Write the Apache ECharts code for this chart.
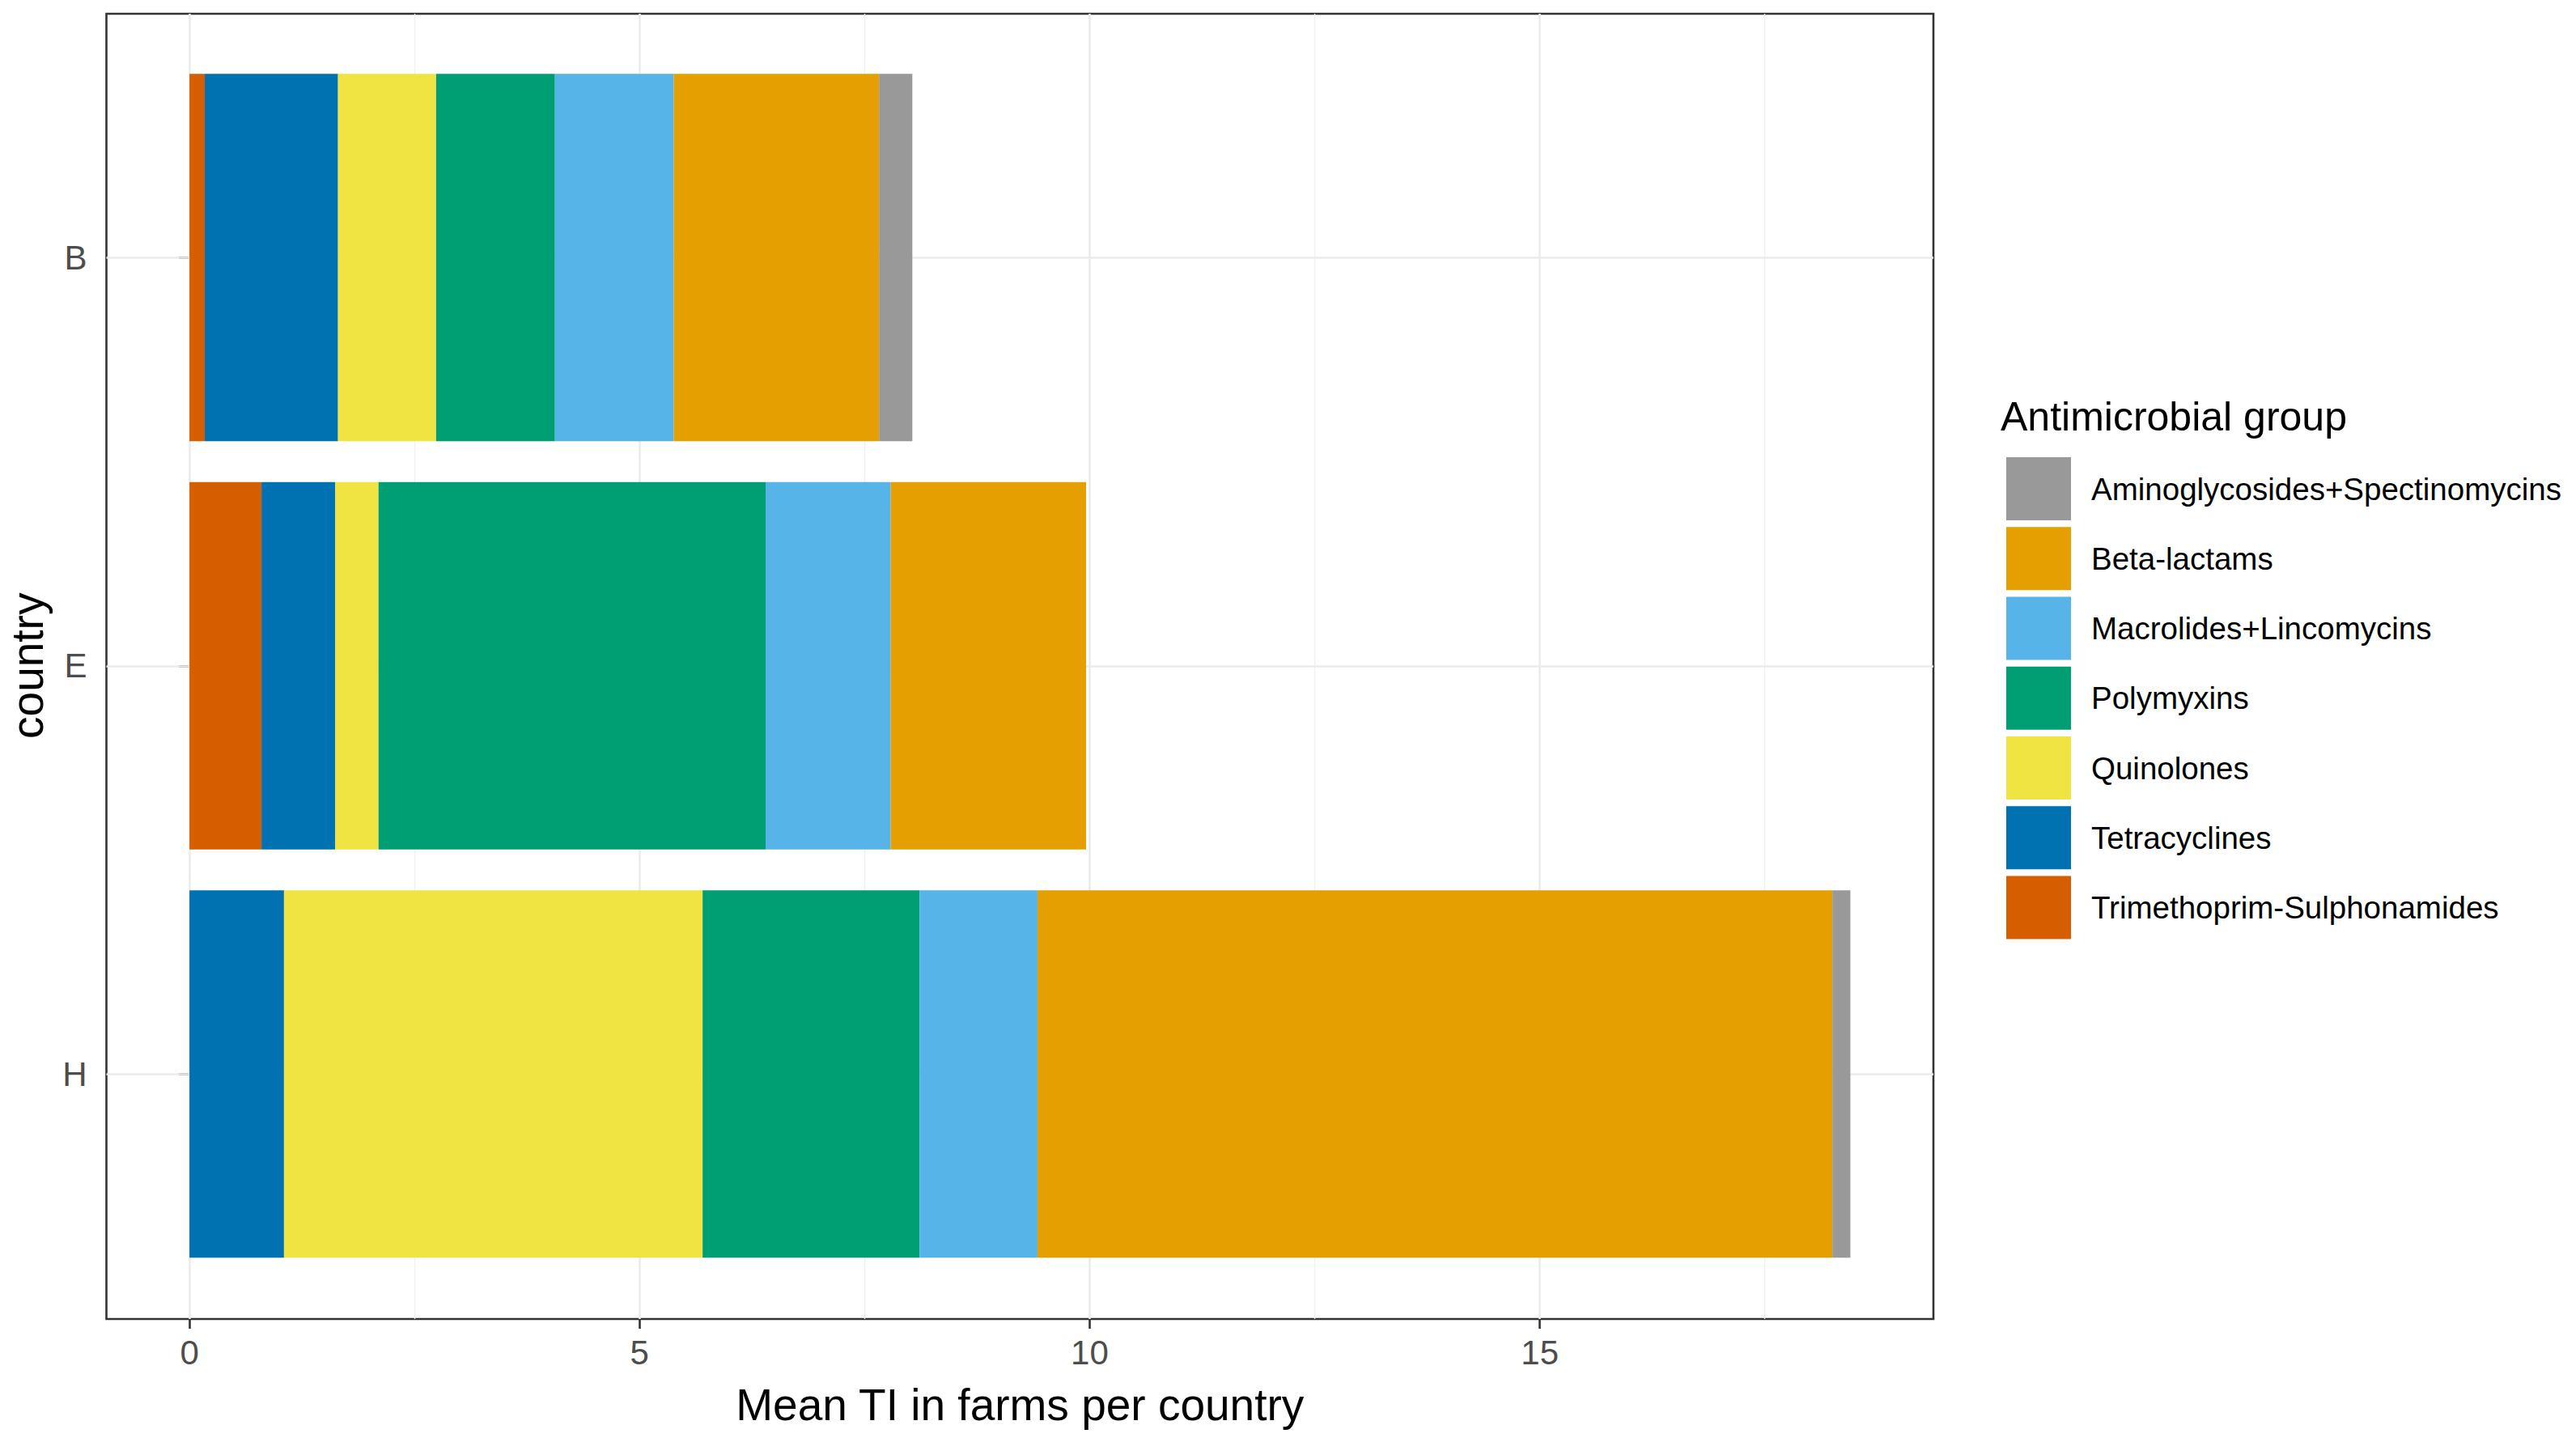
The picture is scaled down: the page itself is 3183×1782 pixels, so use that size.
<!DOCTYPE html>
<html>
<head>
<meta charset="utf-8">
<script src="https://cdn.jsdelivr.net/npm/echarts@6/dist/echarts.min.js"></script>
<style>
html,body{margin:0;padding:0;background:#fff;}
#chart{width:3183px;height:1782px;}
</style>
</head>
<body>
<div id="chart"></div>
<script>
// ---- data ----
const countries = ['B', 'E', 'H'];
const groups = ['Trimethoprim-Sulphonamides', 'Tetracyclines', 'Quinolones', 'Polymyxins',
                'Macrolides+Lincomycins', 'Beta-lactams', 'Aminoglycosides+Spectinomycins'];
const trimethoprim = [0.17, 0.80, 0.00];
const tetracyclines = [1.48, 0.82, 1.05];
const quinolones = [1.09, 0.48, 4.65];
const polymyxins = [1.32, 4.30, 2.41];
const macrolides = [1.32, 1.39, 1.31];
const betaLactams = [2.28, 2.17, 8.83];
const aminoglycosides = [0.37, 0.00, 0.20];
const xTicks = [0, 5, 10, 15];
const xMinorTicks = [2.5, 7.5, 12.5, 17.5];

const seriesValues = [trimethoprim, tetracyclines, quinolones, polymyxins, macrolides, betaLactams, aminoglycosides];
const colors = ['#D55E00', '#0072B2', '#F0E442', '#009E73', '#56B4E9', '#E69F00', '#999999'];

const totals = countries.map((c, i) => seriesValues.reduce((s, arr) => s + arr[i], 0));
const maxTotal = Math.max(...totals);
const pad = maxTotal * 0.05;
const xMin = -pad, xMax = maxTotal + pad;

const FONT = '"Liberation Sans", Arial, sans-serif';

const chart = echarts.init(document.getElementById('chart'), null, {renderer: 'svg'});

const barSeries = groups.map((g, k) => ({
  name: g,
  type: 'bar',
  stack: 'total',
  xAxisIndex: 1,
  yAxisIndex: 1,
  barCategoryGap: '10%',
  z: 3,
  itemStyle: {color: colors[k]},
  emphasis: {disabled: true},
  data: seriesValues[k]
}));

const gridLineSeriesV = {
  type: 'line', xAxisIndex: 0, yAxisIndex: 0, data: [], silent: true, z: 1,
  markLine: {
    silent: true, symbol: ['none', 'none'], label: {show: false}, z: 1, animation: false,
    emphasis: {disabled: true},
    data: xTicks.map(v => ({xAxis: v, lineStyle: {color: '#ebebeb', width: 2.6, type: 'solid'}}))
      .concat(xMinorTicks.map(v => ({xAxis: v, lineStyle: {color: '#f0f0f0', width: 1.3, type: 'solid'}})))
  }
};
const gridLineSeriesH = {
  type: 'line', xAxisIndex: 1, yAxisIndex: 1, data: [], silent: true, z: 1,
  markLine: {
    silent: true, symbol: ['none', 'none'], label: {show: false}, z: 1, animation: false,
    emphasis: {disabled: true},
    data: countries.map(c => ({yAxis: c, lineStyle: {color: '#ebebeb', width: 2.6, type: 'solid'}}))
  }
};

const option = {
  animation: false,
  backgroundColor: '#ffffff',
  textStyle: {fontFamily: FONT},
  grid: [
    {left: 131.5, right: 794, top: 17, bottom: 152, show: true, borderColor: '#333333', borderWidth: 2.6,
     backgroundColor: 'transparent', containLabel: false, outerBoundsMode: 'none'},
    {left: 131.5, right: 794, top: 66, bottom: 202.5, containLabel: false, outerBoundsMode: 'none'}
  ],
  xAxis: [
    {type: 'value', gridIndex: 0, min: xMin, max: xMax,
     name: 'Mean TI in farms per country', nameLocation: 'middle', nameGap: 78,
     nameTextStyle: {fontSize: 55, color: '#000000', fontFamily: FONT},
     axisLine: {show: false},
     axisTick: {show: true, customValues: xTicks, length: 12, lineStyle: {color: '#333333', width: 2.6}},
     axisLabel: {customValues: xTicks, fontSize: 42, color: '#4d4d4d', margin: 20, fontFamily: FONT},
     splitLine: {show: false}, minorSplitLine: {show: false}},
    {type: 'value', gridIndex: 1, min: xMin, max: xMax, show: false, splitLine: {show: false}}
  ],
  yAxis: [
    {type: 'value', gridIndex: 0, min: 0, max: 1, show: false, splitLine: {show: false}},
    {type: 'category', gridIndex: 1, data: countries, inverse: true,
     name: 'country', nameLocation: 'middle', nameGap: 70, nameRotate: 90,
     nameTextStyle: {fontSize: 55, color: '#000000', fontFamily: FONT},
     axisLine: {show: false},
     axisTick: {show: true, alignWithLabel: true, length: 13, lineStyle: {color: '#333333', width: 2.6}},
     axisLabel: {fontSize: 42, color: '#4d4d4d', margin: 24, fontFamily: FONT},
     splitLine: {show: false}}
  ],
  legend: {
    orient: 'vertical', left: 2474, top: 560,
    itemWidth: 80, itemHeight: 78, itemGap: 8.25, icon: 'rect',
    selectedMode: false,
    data: groups.slice().reverse(),
    textStyle: {fontSize: 38.5, color: '#000000', fontFamily: FONT, padding: [0, 0, 0, 20]}
  },
  graphic: [
    {type: 'text', left: 2472, top: 490, silent: true,
     style: {text: 'Antimicrobial group', fontSize: 50, fontFamily: FONT, fill: '#000000'}}
  ],
  series: [gridLineSeriesV, gridLineSeriesH].concat(barSeries)
};
chart.setOption(option);
</script>
</body>
</html>
